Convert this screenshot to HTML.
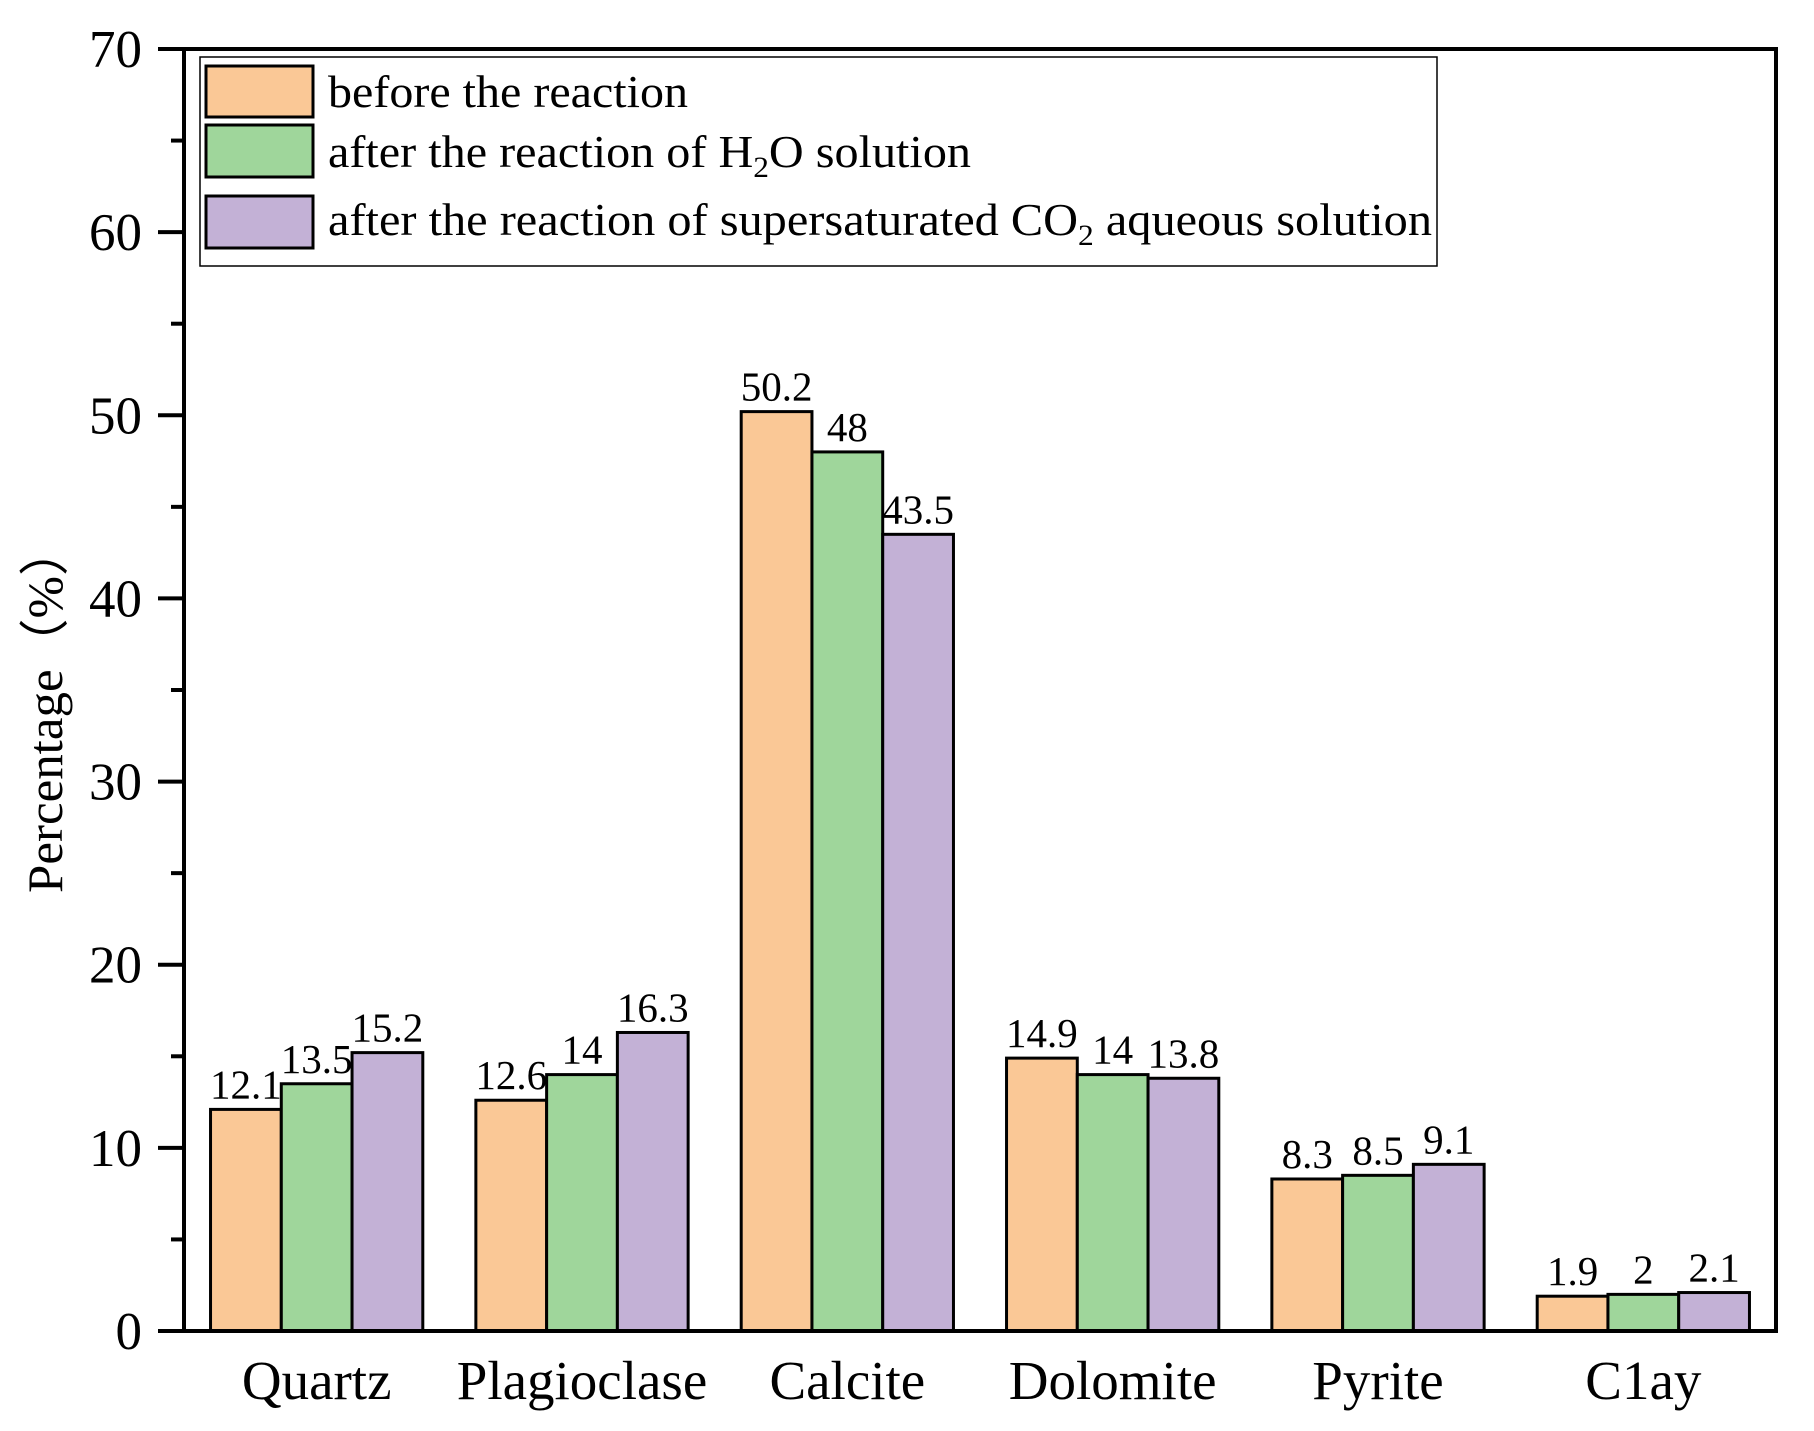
<!DOCTYPE html>
<html><head><meta charset="utf-8"><style>
html,body{margin:0;padding:0;background:#fff;}
svg{display:block;font-family:"Liberation Serif",serif;}
</style></head><body>
<svg id="chart" width="1814" height="1431" viewBox="0 0 1814 1431" xmlns="http://www.w3.org/2000/svg">
<g id="bars"></g>
<g id="labels"></g>
<g id="axes"></g>
<text transform="translate(62,709) rotate(-90)" text-anchor="middle" font-size="50" textLength="368" lengthAdjust="spacingAndGlyphs">Percentage（%）</text>
<g>
  <rect x="200" y="57" width="1237" height="209" fill="#fff" stroke="#000" stroke-width="1.5"/>
  <rect x="206" y="66" width="107" height="51" fill="#FAC896" stroke="#000" stroke-width="3"/>
  <text x="328" y="107" font-size="46" textLength="360" lengthAdjust="spacingAndGlyphs">before the reaction</text>
  <rect x="206" y="125" width="107" height="52" fill="#9FD69B" stroke="#000" stroke-width="3"/>
  <text x="328" y="167" font-size="46" textLength="643" lengthAdjust="spacingAndGlyphs">after the reaction of H<tspan dy="10" font-size="30">2</tspan><tspan dy="-10">O solution</tspan></text>
  <rect x="206" y="196" width="107" height="52" fill="#C3B1D6" stroke="#000" stroke-width="3"/>
  <text x="328" y="235" font-size="46" textLength="1104" lengthAdjust="spacingAndGlyphs">after the reaction of supersaturated CO<tspan dy="10" font-size="30">2</tspan><tspan dy="-10"> aqueous solution</tspan></text>
</g>
</svg>
<script>
const categories = ["Quartz","Plagioclase","Calcite","Dolomite","Pyrite","C1ay"];
const before = [12.1,12.6,50.2,14.9,8.3,1.9];
const afterH2O = [13.5,14,48,14,8.5,2];
const afterCO2 = [15.2,16.3,43.5,13.8,9.1,2.1];
const yTicks = [0,10,20,30,40,50,60,70];
const seriesNames = ["before","h2o","co2"];

const NS = "http://www.w3.org/2000/svg";
const X0 = 184, X1 = 1776, Y0 = 1331, Y1 = 49, YMAX = 70;
const colors = ["#FAC896","#9FD69B","#C3B1D6"];
const y = v => Y0 - (v / YMAX) * (Y0 - Y1);
const band = (X1 - X0) / categories.length;
const bw = band * 0.8 / 3;
const xCenter = i => X0 + band * (i + 0.5);
const fmt = v => String(v);

function mk(tag, attrs, parent) {
  const e = document.createElementNS(NS, tag);
  for (const k in attrs) e.setAttribute(k, attrs[k]);
  parent.appendChild(e);
  return e;
}
const gb = document.getElementById("bars");
const gl = document.getElementById("labels");
const ga = document.getElementById("axes");
const series = [before, afterH2O, afterCO2];

series.forEach((vals, s) => {
  vals.forEach((v, i) => {
    const x = xCenter(i) - 1.5 * bw + s * bw;
    const r = mk("rect", {x: x, y: y(v), width: bw, height: Y0 - y(v), fill: colors[s], stroke: "#000", "stroke-width": 3}, gb);
    
    
    const t = mk("text", {x: x + bw / 2, y: y(v) - 11, "text-anchor": "middle", "font-size": 41}, gl);
    t.textContent = fmt(v);
    
    
  });
});

const fr = mk("rect", {x: X0, y: Y1, width: X1 - X0, height: Y0 - Y1, fill: "none", stroke: "#000", "stroke-width": 4}, ga);



yTicks.forEach(v => {
  const l = mk("line", {x1: X0 - 26, x2: X0, y1: y(v), y2: y(v), stroke: "#000", "stroke-width": 4}, ga);
  
  
  const t = mk("text", {x: 142, y: y(v) + 18, "text-anchor": "end", "font-size": 53}, ga);
  t.textContent = v;
  
  
  if (v < YMAX) {
    const m = mk("line", {x1: X0 - 13, x2: X0, y1: y(v + 5), y2: y(v + 5), stroke: "#000", "stroke-width": 4}, ga);
    
    
  }
});

categories.forEach((c, i) => {
  const t = mk("text", {x: xCenter(i), y: 1399, "text-anchor": "middle", "font-size": 55}, ga);
  t.textContent = c;
  
  
});
</script>
</body></html>
